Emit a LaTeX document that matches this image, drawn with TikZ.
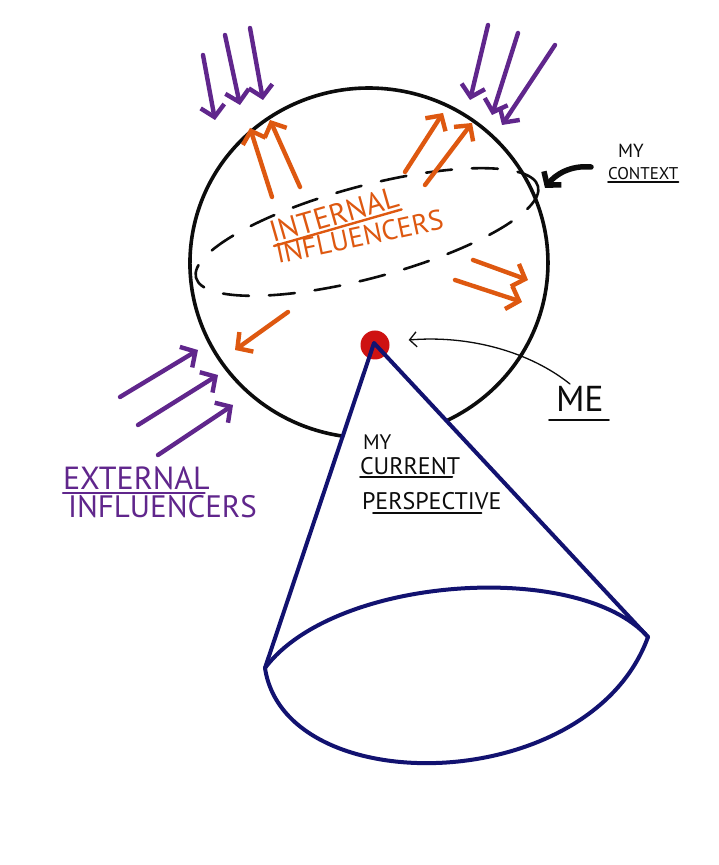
\documentclass[tikz,border=0pt]{standalone}
\usepackage{fontspec}
\setmainfont{PT Sans}
\usetikzlibrary{arrows.meta,positioning}

\begin{document}
\begin{tikzpicture}[x=1pt,y=1pt,
  ink/.style={line width=#1,line cap=round,line join=round},
  ink/.default=3.6pt,
  influx/.style={ink=4.4pt,-{Straight Barb[length=11pt,width=24pt]}},
  hand/.style={anchor=base west,inner sep=0pt,outer sep=0pt,font=\fontsize{#1}{#1}\selectfont},
]
\useasboundingbox (0,0) rectangle (718,865);
\path[fill=white] (0,0) rectangle (718,865);

% red dot first, the cone runs over it
\begin{scope}
\definecolor{fillColor}{RGB}{206,18,18}
\node[circle,fill=fillColor,minimum size=29pt,inner sep=0pt] (dot) at (375,520) {};
\end{scope}

% context sphere
\begin{scope}
\definecolor{drawColor}{RGB}{12,12,12}
\path[draw=drawColor,ink] (342.5,428.9) arc[start angle=261.5,end angle=-64,x radius=179,y radius=175];
\path[draw=drawColor,ink=2.6pt,dash pattern=on 26pt off 20pt,rotate around={15:(367,633)}] (367,633) ellipse [x radius=177,y radius=46];
\end{scope}

% perspective cone
\begin{scope}
\definecolor{drawColor}{RGB}{18,18,112}
\coordinate (apex) at (374,522);
\coordinate (baseL) at (265,197);
\coordinate (baseR) at (648,228);
\path[draw=drawColor,ink=4pt] (baseL) -- (apex) -- (baseR);
\path[draw=drawColor,ink=4pt] (baseL) .. controls (335,290) and (580,305) .. (baseR)
  .. controls (590,68) and (285,63) .. (baseL);
\end{scope}

% external influencers
\begin{scope}
\definecolor{drawColor}{RGB}{96,38,140}
\foreach \tx/\ty/\hx/\hy in {203/810/215/745, 225/830/240/760, 250/837/263/765,
    488/840/470/765, 518/832/492/750, 555/820/502/740,
    120/468/198/515, 138/440/218/490, 158/410/233/460}
  \path[draw=drawColor,influx] (\tx,\ty) -- (\hx,\hy);
\node[hand=32pt,text=drawColor] (extTop) at (63,375) {EXTERNAL};
\node[hand=31pt,text=drawColor] (extBot) at (68,347) {INFLUENCERS};
\path[draw=drawColor,ink=2.4pt] ([yshift=-3pt]extTop.base west) -- ([yshift=-3pt,xshift=-5pt]extTop.base east);
\end{scope}

% internal influencers
\begin{scope}
\definecolor{drawColor}{RGB}{222,88,16}
\foreach \tx/\ty/\hx/\hy in {272/668/250/737, 300/678/270/745, 405/693/443/752,
    425/680/472/742, 473/605/528/585, 455/585/522/563, 288/553/235/515}
  \path[draw=drawColor,influx] (\tx,\ty) -- (\hx,\hy);
\node[hand=30pt,text=drawColor,rotate=16] (intTop) at (273,622) {INTERNAL};
\node[hand=28pt,text=drawColor,rotate=12] (intBot) at (278,601) {INFLUENCERS};
\path[draw=drawColor,ink=2.4pt] ([shift={(1,-3)}]intTop.base west) -- ([shift={(1,-3)}]intTop.base east);
\end{scope}

% labels in black
\begin{scope}
\definecolor{drawColor}{RGB}{12,12,12}
\node[hand=19pt,text=drawColor] (ctxMy) at (618,707) {MY};
\node[hand=17pt,text=drawColor] (ctx) at (608,685) {CONTEXT};
\path[draw=drawColor,ink=2pt] ([yshift=-2pt]ctx.base west) -- ([yshift=-2pt]ctx.base east);
\coordinate (ctxTail) at (591,698);
\coordinate (ctxTip) at (545,677);
\path[draw=drawColor,ink=5.5pt,-{Straight Barb[length=9pt,width=22pt]}] (ctxTail) .. controls (570,700) and (555,690) .. (ctxTip);

\node[hand=36pt,text=drawColor] (me) at (556,453) {ME};
\path[draw=drawColor,ink=2pt] ([shift={(-7,-8)}]me.base west) -- ([shift={(5,-8)}]me.base east);
\path[draw=drawColor,ink=1.3pt,-{Straight Barb[length=7pt,width=15pt]}] ([shift={(14,28)}]me.base west)
  .. controls (530,513) and (470,530) .. ([shift={(19,5)}]dot.east);

\node[hand=21pt,text=drawColor] (perMy) at (363,415) {MY};
\node[hand=24pt,text=drawColor] (perCur) at (360,390) {CURRENT};
\node[hand=24pt,text=drawColor] (perPers) at (362,355) {PERSPECTIVE};
\path[draw=drawColor,ink=2pt] ([yshift=-2pt]perCur.base west) -- ([yshift=-2pt,xshift=-8pt]perCur.base east);
\path[draw=drawColor,ink=2pt] ([shift={(11,-3)}]perPers.base west) -- ([shift={(-20,-3)}]perPers.base east);
\end{scope}
\end{tikzpicture}
\end{document}
